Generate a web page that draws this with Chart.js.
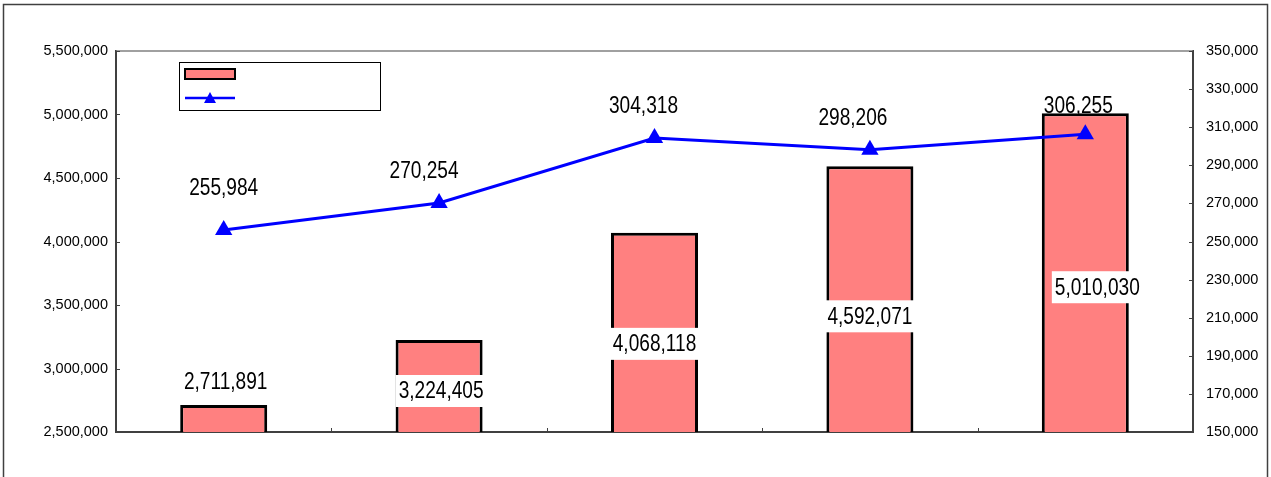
<!DOCTYPE html>
<html>
<head>
<meta charset="utf-8">
<script src="https://cdn.jsdelivr.net/npm/chart.js@4"></script>
<style>
  html, body { margin: 0; padding: 0; background: #fff; }
  #wrap { width: 1271px; height: 477px; }
</style>
</head>
<body>
<div id="wrap"><canvas id="combo" width="1271" height="477"></canvas></div>
<script>
// datos del grafico
const categorias = ['', '', '', '', ''];
const barras = [2711891, 3224405, 4068118, 4592071, 5010030];
const linea = [255984, 270254, 304318, 298206, 306255];

// ejes
const ejeIzq = { min: 2500000, max: 5500000, paso: 500000 };
const ejeDer = { min: 150000, max: 350000, paso: 20000 };

// donde van las etiquetas (px respecto a la barra / punto)
const desplBarraY = [-23, 51, 111, 150, 174];
const desplBarraX = [2, 2, 0, 0, 12];
const desplLineaY = [-42, -32, -32, -32, -29];
const desplLineaX = [0, -15, -11, -17, -7];

const fmt = n => n.toLocaleString('en-US');
const fuenteTicks = { family: 'Liberation Sans, Arial, sans-serif', size: 14.5 };

// texto angosto (como el original)
function textoAngosto(ctx, txt, x, y, fondo) {
    ctx.save();
    ctx.font = '23px "Liberation Sans", Arial, sans-serif';
    const escala = 0.83;
    const w = ctx.measureText(txt).width * escala;
    if (fondo) {
        ctx.fillStyle = '#ffffff';
        ctx.fillRect(x - w / 2 - 3, y - 16, w + 6, 32);
    }
    ctx.translate(x, y);
    ctx.scale(escala, 1);
    ctx.fillStyle = '#000000';
    ctx.textAlign = 'center';
    ctx.textBaseline = 'middle';
    ctx.fillText(txt, 0, 1);
    ctx.restore();
}

const extras = {
    id: 'extras',
    beforeDraw(chart) {
        const ctx = chart.ctx;
        ctx.save();
        ctx.fillStyle = '#ffffff';
        ctx.fillRect(0, 0, chart.width, chart.height);
        ctx.strokeStyle = '#404040';
        ctx.lineWidth = 1.5;
        ctx.strokeRect(3.5, 4.5, 1264, 490);
        ctx.restore();
    },
    afterDatasetsDraw(chart) {
        const ctx = chart.ctx;
        const a = chart.chartArea;
        ctx.save();
        // borde superior del area
        ctx.strokeStyle = '#808080';
        ctx.lineWidth = 1.5;
        ctx.beginPath();
        ctx.moveTo(a.left, a.top);
        ctx.lineTo(a.right, a.top);
        ctx.stroke();

        // marcas hacia adentro
        ctx.strokeStyle = '#404040';
        ctx.lineWidth = 1;
        const y = chart.scales.y, y1 = chart.scales.y1;
        y.ticks.forEach(t => {
            const py = Math.round(y.getPixelForValue(t.value)) + 0.5;
            ctx.beginPath(); ctx.moveTo(a.left, py); ctx.lineTo(a.left + 4, py); ctx.stroke();
        });
        y1.ticks.forEach(t => {
            const py = Math.round(y1.getPixelForValue(t.value)) + 0.5;
            ctx.beginPath(); ctx.moveTo(a.right, py); ctx.lineTo(a.right - 4, py); ctx.stroke();
        });
        const anchoCat = (a.right - a.left) / categorias.length;
        for (let i = 1; i < categorias.length; i++) {
            const px = Math.round(a.left + anchoCat * i) + 0.5;
            ctx.beginPath(); ctx.moveTo(px, a.bottom); ctx.lineTo(px, a.bottom - 4); ctx.stroke();
        }

        // etiquetas de barras
        chart.getDatasetMeta(0).data.forEach((bar, i) => {
            textoAngosto(ctx, fmt(barras[i]), bar.x + desplBarraX[i], bar.y + desplBarraY[i], true);
        });
        // etiquetas de linea
        chart.getDatasetMeta(1).data.forEach((pt, i) => {
            textoAngosto(ctx, fmt(linea[i]), pt.x + desplLineaX[i], pt.y + desplLineaY[i], false);
        });

        // leyenda (sin texto, como el original)
        ctx.fillStyle = '#ffffff';
        ctx.fillRect(179.5, 62.5, 201, 48);
        ctx.strokeStyle = '#000000';
        ctx.lineWidth = 1;
        ctx.strokeRect(179.5, 62.5, 201, 48);
        ctx.fillStyle = '#FF8080';
        ctx.fillRect(185, 69, 50, 10);
        ctx.lineWidth = 2;
        ctx.strokeRect(185, 69, 50, 10);
        ctx.strokeStyle = '#0000FF';
        ctx.lineWidth = 2.5;
        ctx.beginPath(); ctx.moveTo(185, 98); ctx.lineTo(235, 98); ctx.stroke();
        ctx.fillStyle = '#0000FF';
        ctx.beginPath();
        ctx.moveTo(210, 92); ctx.lineTo(216, 103); ctx.lineTo(204, 103);
        ctx.closePath(); ctx.fill();
        ctx.restore();
    }
};

const ctxCombo = document.getElementById('combo').getContext('2d');
const graf = new Chart(ctxCombo, {
    data: {
        labels: categorias,
        datasets: [{
            type: 'bar',
            data: barras,
            yAxisID: 'y',
            backgroundColor: '#FF8080',
            borderColor: '#000000',
            borderWidth: 3,
            categoryPercentage: 1,
            barPercentage: 0.404,
            order: 2
        }, {
            type: 'line',
            data: linea,
            yAxisID: 'y1',
            borderColor: '#0000FF',
            backgroundColor: '#0000FF',
            borderWidth: 3,
            pointStyle: 'triangle',
            pointRadius: 10,
            pointBorderWidth: 0,
            tension: 0,
            order: 1
        }]
    },
    options: {
        responsive: false,
        animation: false,
        layout: { padding: { top: 51, left: 0, right: 0, bottom: 0 } },
        plugins: { legend: { display: false }, tooltip: { enabled: false } },
        scales: {
            x: {
                offset: true,
                grid: { display: false },
                border: { display: true, color: '#404040', width: 2 },
                ticks: { display: false },
                afterFit: s => { s.height = 45; }
            },
            y: {
                position: 'left',
                min: ejeIzq.min, max: ejeIzq.max,
                grid: { display: false, drawTicks: false },
                border: { display: true, color: '#404040', width: 2 },
                ticks: { stepSize: ejeIzq.paso, padding: 8, color: '#000', font: fuenteTicks, callback: v => fmt(v) },
                afterFit: s => { s.width = 116; }
            },
            y1: {
                position: 'right',
                min: ejeDer.min, max: ejeDer.max,
                grid: { display: false, drawTicks: false },
                border: { display: true, color: '#404040', width: 2 },
                ticks: { stepSize: ejeDer.paso, padding: 13, color: '#000', font: fuenteTicks, callback: v => fmt(v) },
                afterFit: s => { s.width = 78; }
            }
        }
    },
    plugins: [extras]
});
</script>
</body>
</html>
